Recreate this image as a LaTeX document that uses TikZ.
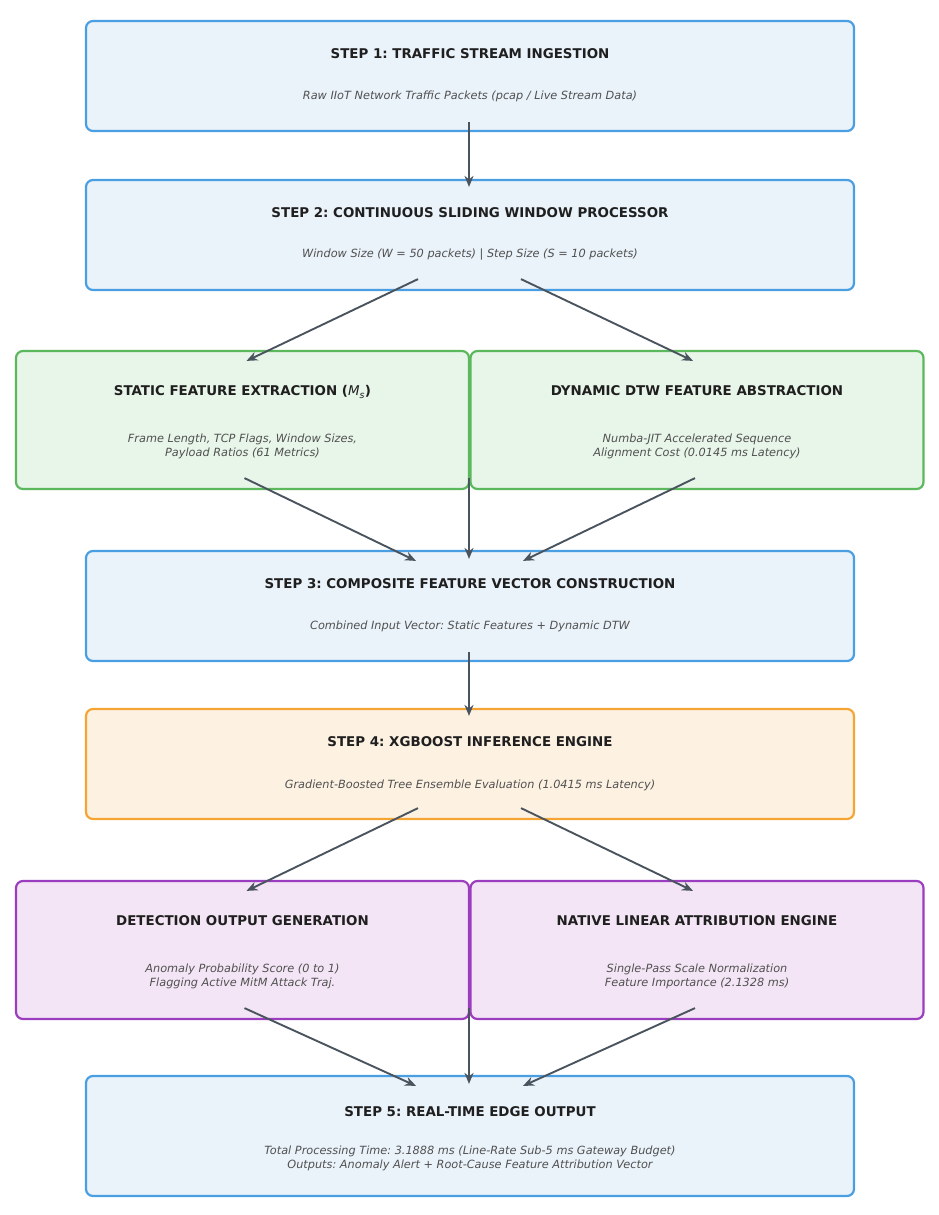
\documentclass[tikz,border=0pt]{standalone}
\usepackage{fontspec}
\setmainfont{DejaVu Sans}
\usepackage{tikz}
\usetikzlibrary{arrows.meta,positioning}
\frenchspacing

\definecolor{blueline}{HTML}{4A9FE3}
\definecolor{bluefill}{HTML}{EAF2FA}
\definecolor{greenline}{HTML}{5CB85C}
\definecolor{greenfill}{HTML}{E8F5E9}
\definecolor{orangeline}{HTML}{F5A534}
\definecolor{orangefill}{HTML}{FDF2E2}
\definecolor{purpleline}{HTML}{9B3DBF}
\definecolor{purplefill}{HTML}{F3E5F5}
\definecolor{arrowgray}{HTML}{4A545E}
\definecolor{subgray}{HTML}{505050}

\begin{document}
\begin{tikzpicture}[x=1pt, y=-1pt,
    stagebox/.style={rectangle, rounded corners=7pt, line width=2.2pt, inner sep=0pt},
    wide/.style={stagebox, minimum width=768pt, minimum height=110pt},
    half/.style={stagebox, minimum width=453pt, minimum height=138pt},
    titletext/.style={font=\bfseries\fontsize{13.4}{15}\selectfont, text=black!88},
    subtext/.style={font=\itshape\fontsize{11.3}{13.5}\selectfont, text=subgray, align=center},
    flow/.style={-{Stealth[length=11pt,width=9pt]}, line width=1.9pt, arrowgray}]
    \useasboundingbox (0,0) rectangle (938,1215);

    % Draw the stage boxes
    \node[wide, draw=blueline, fill=bluefill] (s1) at (470,76) {};
    \node[wide, draw=blueline, fill=bluefill] (s2) at (470,235) {};
    \node[half, draw=greenline, fill=greenfill] (fs) at (242.5,420) {};
    \node[half, draw=greenline, fill=greenfill] (fd) at (697,420) {};
    \node[wide, draw=blueline, fill=bluefill] (s3) at (470,606) {};
    \node[wide, draw=orangeline, fill=orangefill] (s4) at (470,764) {};
    \node[half, draw=purpleline, fill=purplefill] (od) at (242.5,950) {};
    \node[half, draw=purpleline, fill=purplefill] (oa) at (697,950) {};
    \node[stagebox, minimum width=768pt, minimum height=120pt, draw=blueline, fill=bluefill] (s5) at (470,1136) {};

    % Titles and descriptions
    \node[titletext] (s1t) at (470,54) {STEP 1: TRAFFIC STREAM INGESTION};
    \node[subtext] (s1d) at (470,96) {Raw IIoT Network Traffic Packets (pcap / Live Stream Data)};
    \node[titletext] (s2t) at (470,213) {STEP 2: CONTINUOUS SLIDING WINDOW PROCESSOR};
    \node[subtext] (s2d) at (470,255) {Window Size (W = 50 packets) | Step Size (S = 10 packets)};
    \node[titletext] (fst) at (242.5,392) {STATIC FEATURE EXTRACTION (\textmd{\textit{M}\textsubscript{\textit{s}}})};
    \node[subtext] (fsd) at (242.5,446.5) {Frame Length, TCP Flags, Window Sizes,\\Payload Ratios (61 Metrics)};
    \node[titletext] (fdt) at (697,391) {DYNAMIC DTW FEATURE ABSTRACTION};
    \node[subtext] (fdd) at (697,446.5) {Numba-JIT Accelerated Sequence\\Alignment Cost (0.0145 ms Latency)};
    \node[titletext] (s3t) at (470,584) {STEP 3: COMPOSITE FEATURE VECTOR CONSTRUCTION};
    \node[subtext] (s3d) at (470,626) {Combined Input Vector: Static Features + Dynamic DTW};
    \node[titletext] (s4t) at (470,742) {STEP 4: XGBOOST INFERENCE ENGINE};
    \node[subtext] (s4d) at (470,785) {Gradient-Boosted Tree Ensemble Evaluation (1.0415 ms Latency)};
    \node[titletext] (odt) at (242.5,921) {DETECTION OUTPUT GENERATION};
    \node[subtext] (odd) at (242.5,976.5) {Anomaly Probability Score (0 to 1)\\Flagging Active MitM Attack Traj.};
    \node[titletext] (oat) at (697,921) {NATIVE LINEAR ATTRIBUTION ENGINE};
    \node[subtext] (oad) at (697,976.5) {Single-Pass Scale Normalization\\Feature Importance (2.1328 ms)};
    \node[titletext] (s5t) at (470,1112) {STEP 5: REAL-TIME EDGE OUTPUT};
    \node[subtext] (s5d) at (470,1158.5) {Total Processing Time: 3.1888 ms (Line-Rate Sub-5 ms Gateway Budget)\\Outputs: Anomaly Alert + Root-Cause Feature Attribution Vector};

    % Draw the flow arrows
    \draw[flow] ([xshift=-1pt,yshift=10pt]s1.south) -- ([xshift=-1pt,yshift=-8pt]s2.north);
    \draw[flow] ([xshift=-52pt,yshift=12pt]s2.south) -- ([xshift=4pt,yshift=-11pt]fs.north);
    \draw[flow] ([xshift=51pt,yshift=12pt]s2.south) -- ([xshift=-4pt,yshift=-11pt]fd.north);
    \draw[flow] ([xshift=2pt,yshift=12pt]fs.south) -- ([xshift=-54pt,yshift=-11pt]s3.north);
    \draw[flow] ([xshift=-2pt,yshift=12pt]fd.south) -- ([xshift=53pt,yshift=-11pt]s3.north);
    \draw[flow] ([xshift=226.5pt,yshift=12pt]fs.south) -- ([xshift=-1pt,yshift=-9pt]s3.north);
    \draw[flow] ([xshift=-1pt,yshift=10pt]s3.south) -- ([xshift=-1pt,yshift=-8pt]s4.north);
    \draw[flow] ([xshift=-52pt,yshift=12pt]s4.south) -- ([xshift=4pt,yshift=-11pt]od.north);
    \draw[flow] ([xshift=51pt,yshift=12pt]s4.south) -- ([xshift=-4pt,yshift=-11pt]oa.north);
    \draw[flow] ([xshift=2pt,yshift=12pt]od.south) -- ([xshift=-54pt,yshift=-11pt]s5.north);
    \draw[flow] ([xshift=-2pt,yshift=12pt]oa.south) -- ([xshift=53pt,yshift=-11pt]s5.north);
    \draw[flow] ([xshift=226.5pt,yshift=12pt]od.south) -- ([xshift=-1pt,yshift=-9pt]s5.north);
\end{tikzpicture}
\end{document}
